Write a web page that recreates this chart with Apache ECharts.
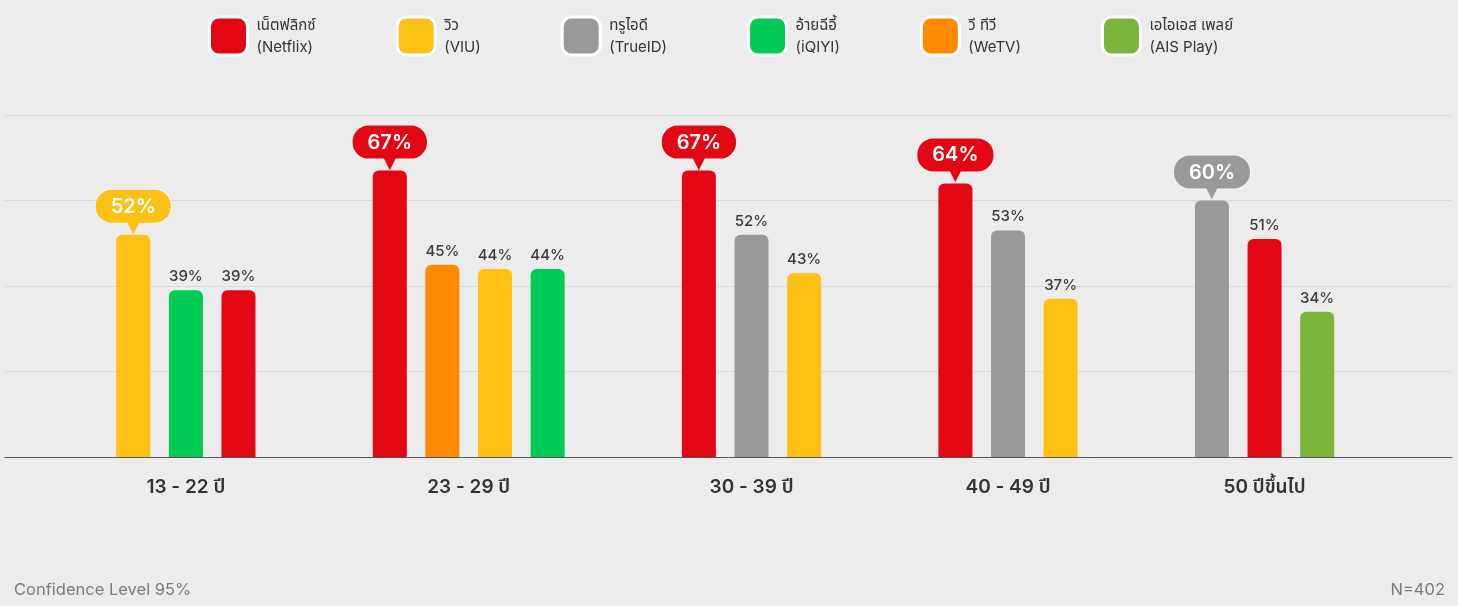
<!DOCTYPE html>
<html>
<head>
<meta charset="utf-8">
<script src="https://cdn.jsdelivr.net/npm/echarts@6/dist/echarts.min.js"></script>
<style>
  html, body { margin: 0; padding: 0; background: #ebeceb; }
  #container { width: 1458px; height: 606px; }
</style>
</head>
<body>
<div id="container"></div>
<script>
// age groups (x axis)
var ageGroups = ['13 - 22 ปี', '23 - 29 ปี', '30 - 39 ปี', '40 - 49 ปี', '50 ปีขึ้นไป'];
// platforms / legend
var platformNames = ['Netflix', 'VIU', 'TrueID', 'iQIYI', 'WeTV', 'AIS Play'];
var platformThai = ['เน็ตฟลิกซ์', 'วิว', 'ทรูไอดี', 'อ้ายฉีอี้', 'วี ทีวี', 'เอไอเอส เพลย์'];
var platformColors = ['#e30613', '#fdc014', '#98999b', '#00cc55', '#ff8a00', '#7cb53b'];
// top platforms per age group, in display order
var groupPlatforms = [
    ['VIU', 'iQIYI', 'Netflix'],
    ['Netflix', 'WeTV', 'VIU', 'iQIYI'],
    ['Netflix', 'TrueID', 'VIU'],
    ['Netflix', 'TrueID', 'VIU'],
    ['TrueID', 'Netflix', 'AIS Play']
];
// percent values, same order
var groupValues = [
    [52, 39, 39],
    [67, 45, 44, 44],
    [67, 52, 43],
    [64, 53, 37],
    [60, 51, 34]
];

var FONT = "Inter, 'Noto Sans Thai', 'Noto Sans', sans-serif";

// slot layout on the category axis
var SLOTS = 220;
var FIRST = 19;
var STEP = 8;
var GROUP_STEP = 23;

var slots = [];
for (var i = 0; i < SLOTS; i++) {
    slots.push('s' + i);
}
var slotLabel = {};
var seriesData = platformNames.map(function () {
    var arr = [];
    for (var i = 0; i < SLOTS; i++) arr.push(null);
    return arr;
});

//气泡标签
function bubbleLabel(color) {
    return {
        show: true,
        distance: 4,
        formatter: '{bub|{c}%}\n{tri|▼}',
        rich: {
            bub: {
                backgroundColor: color,
                borderColor: 'rgba(255,255,255,0.6)',
                borderWidth: 1,
                borderRadius: 16,
                padding: [7, 15, 6, 15],
                color: '#fff',
                fontSize: 20,
                fontWeight: 600,
                fontFamily: FONT,
                align: 'center'
            },
            tri: {
                color: color,
                fontSize: 19,
                lineHeight: 8,
                fontFamily: 'DejaVu Sans',
                align: 'center'
            }
        }
    };
}

var pos = FIRST;
groupPlatforms.forEach(function (list, g) {
    var first = pos;
    list.forEach(function (p, i) {
        var k = platformNames.indexOf(p);
        var item = { value: groupValues[g][i] };
        if (i === 0) {
            item.label = bubbleLabel(platformColors[k]);
        }
        seriesData[k][pos] = item;
        if (i < list.length - 1) pos += STEP;
    });
    slotLabel[(first + pos) / 2] = ageGroups[g];
    pos += GROUP_STEP;
});

var series = platformNames.map(function (name, k) {
    return {
        name: name,
        type: 'bar',
        barWidth: 34,
        barGap: '-100%',
        itemStyle: {
            color: platformColors[k],
            borderRadius: [6, 6, 0, 0]
        },
        label: {
            show: true,
            position: 'top',
            distance: 6,
            formatter: '{c}%',
            color: '#3a3a3a',
            fontSize: 15,
            fontWeight: 500,
            fontFamily: FONT
        },
        data: seriesData[k]
    };
});

var dom = document.getElementById('container');
var myChart = echarts.init(dom);
var option = {
    backgroundColor: '#ebeceb',
    animation: false,
    title: [
        {
            text: 'Confidence Level 95%',
            left: 9,
            top: 577,
            textStyle: { color: '#7b7b7b', fontSize: 16.5, fontWeight: 400, fontFamily: FONT }
        },
        {
            text: 'N=402',
            right: 8,
            top: 577,
            textStyle: { color: '#7b7b7b', fontSize: 16.5, fontWeight: 400, fontFamily: FONT }
        }
    ],
    legend: {
        top: 9,
        left: 203,
        itemWidth: 38,
        itemHeight: 38,
        itemGap: 80,
        icon: 'roundRect',
        itemStyle: {
            borderColor: '#ffffff',
            borderWidth: 3
        },
        data: platformNames,
        formatter: function (name) {
            var k = platformNames.indexOf(name);
            return platformThai[k] + '\n(' + name + ')';
        },
        textStyle: {
            color: '#333',
            fontSize: 15,
            lineHeight: 22,
            fontFamily: FONT,
            padding: [0, 0, 0, 4]
        }
    },
    grid: {
        left: 5,
        right: 6,
        top: 115,
        bottom: 149
    },
    xAxis: {
        type: 'category',
        data: slots,
        axisTick: { show: false },
        axisLine: { lineStyle: { color: '#555', width: 1 } },
        axisLabel: {
            interval: 0,
            margin: 21,
            color: '#333',
            fontSize: 19,
            fontWeight: 600,
            fontFamily: FONT,
            formatter: function (v, idx) {
                return slotLabel[idx] || '';
            }
        }
    },
    yAxis: {
        type: 'value',
        min: 0,
        max: 80,
        interval: 20,
        axisLabel: { show: false },
        axisLine: { show: false },
        axisTick: { show: false },
        splitLine: { lineStyle: { color: '#d9dad9', width: 1 } }
    },
    series: series
};
if (option && typeof option === "object") {
    myChart.setOption(option, true);
}
</script>
</body>
</html>
